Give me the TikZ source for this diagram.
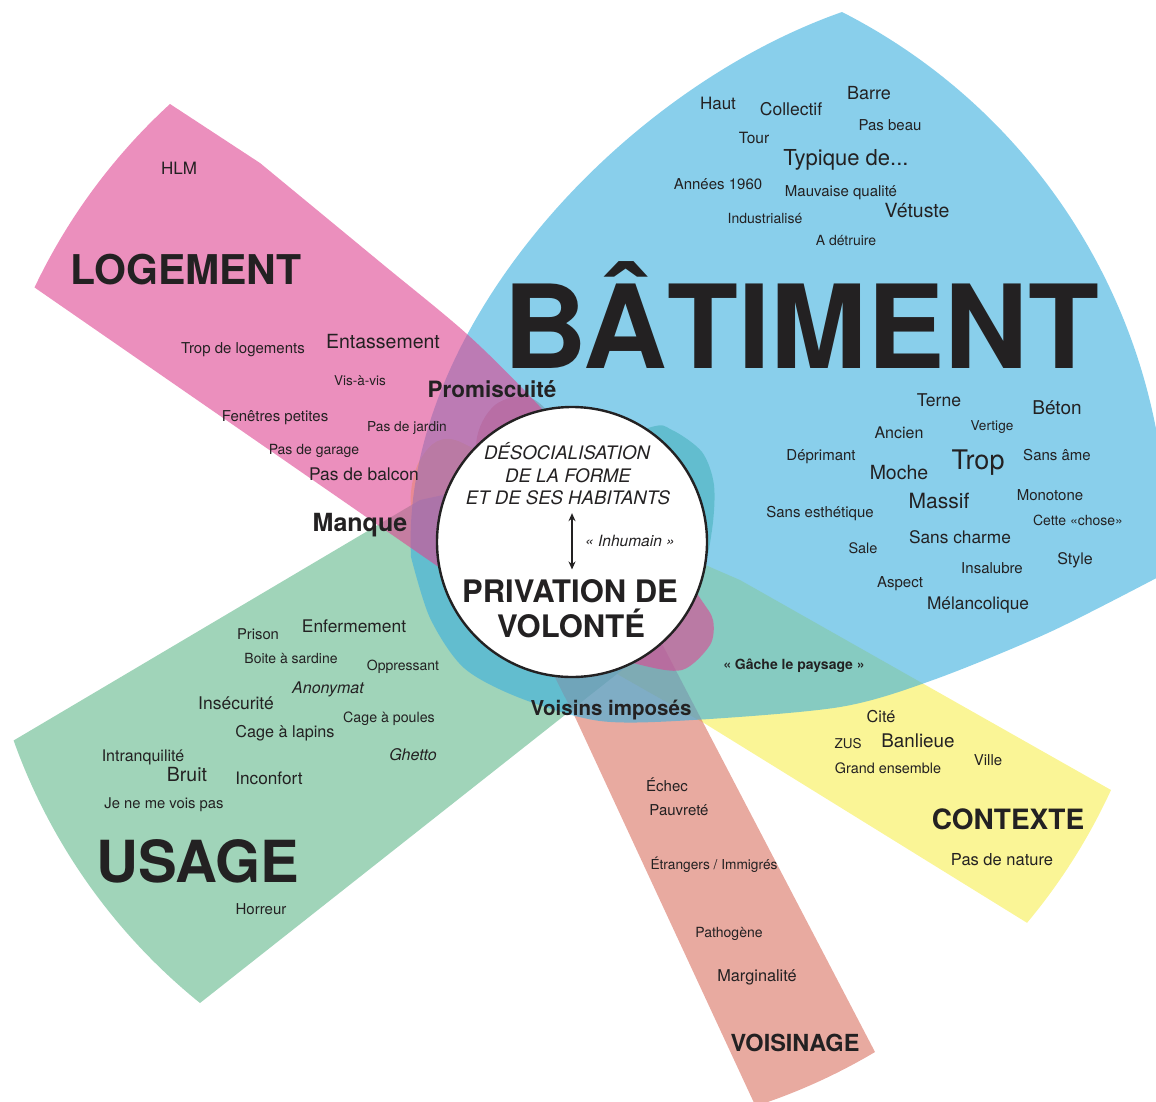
\documentclass[tikz,border=0pt]{standalone}
\usepackage{fontspec}
\setmainfont{TeX Gyre Heros}
\usepackage{tikz}
\usetikzlibrary{arrows.meta}
\definecolor{ink}{RGB}{35,33,34}
\definecolor{batfill}{RGB}{58,175,222}
\definecolor{logfill}{RGB}{222,68,145}
\definecolor{usafill}{RGB}{160,212,185}
\definecolor{confill}{RGB}{250,245,150}
\definecolor{voifill}{RGB}{217,113,97}

\begin{document}
\begin{tikzpicture}[x=1pt, y=-1pt,
        veil/.style={fill opacity=0.6},
        word/.style={anchor=mid, inner sep=0pt, text=ink, font=\fontsize{#1}{#1}\selectfont},
        bword/.style={anchor=mid, inner sep=0pt, text=ink, font=\fontsize{#1}{#1}\selectfont\bfseries},
        iword/.style={anchor=mid, inner sep=0pt, text=ink, font=\fontsize{#1}{#1}\selectfont\itshape},
        title/.style={anchor=base, inner sep=0pt, text=ink, font=\fontsize{#1}{#1}\selectfont\bfseries}]
        \useasboundingbox (0,0) rectangle (1156,1101);

        % Petals
        \fill[confill] (1111,790) arc[start angle=24.7, end angle=39.9, radius=594] -- (704,723)
            -- plot[smooth] coordinates {(704,723) (560,640) (450,560) (412,510) (420,460) (455,440) (560,500) (740,580)} -- cycle;
        \fill[usafill] (200,1003) arc[start angle=128.9, end angle=160.35, radius=594] -- (420,500)
            -- plot[smooth] coordinates {(420,500) (545,470) (648,428) (672,430) (702,452) (714,485) (712,530) (700,580) (660,640)} -- cycle;
        \fill[voifill, veil] (875,1052) arc[start angle=59.3, end angle=72, radius=593] -- (575,717)
            -- plot[smooth] coordinates {(575,717) (500,560) (476,450) (495,405) (535,400) (580,460) (660,640)} -- cycle;
        \fill[batfill, veil] (842,12) arc[start angle=-63, end angle=3, radius=595]
            -- plot[smooth] coordinates {(1166,573) (1050,632) (933,680) (840,707) (693,720) (600,721) (520,698) (464,668) (430,618) (411,557)}
            .. controls (400,330) and (620,90) .. (842,12) -- cycle;
        \fill[logfill, veil] (170,104) arc[start angle=-132.5, end angle=-154.6, radius=595] -- (440,568)
            -- plot[smooth] coordinates {(440,568) (560,640) (637,664) (682,670) (710,645) (713,620) (700,598) (660,540) (543,410) (468,335) (380,262) (260,163)} -- cycle;

        % Centre
        \node (hub) [circle, draw=ink, line width=2.4pt, fill=white, minimum size=270pt, inner sep=0pt] at (572,542) {};
        \node (deso1) [iword=18.6] at (567,457) {DÉSOCIALISATION};
        \node (deso2) [iword=18.6] at (568,480) {DE LA FORME};
        \node (deso3) [iword=18.6] at (568,502) {ET DE SES HABITANTS};
        \node (inhum) [iword=15.5] at (630,544) {« Inhumain »};
        \node (priv1) [bword=31] at (570,600) {PRIVATION DE};
        \node (priv2) [bword=31] at (571,635) {VOLONTÉ};

        % Titles
        \node (bat) [title=116] at (801,368) {BÂTIMENT};
        \node (log) [title=41] at (186,284) {LOGEMENT};
        \node (usa) [title=58] at (198,882) {USAGE};
        \node (con) [title=28] at (1008,829) {CONTEXTE};
        \node (voi) [title=23.5] at (795,1051) {VOISINAGE};

        % Links
        \node (promis) [bword=22.5] at (492,395) {Promiscuité};
        \node (manque) [bword=25] at (360,529) {Manque};
        \node (imposes) [bword=20.5] at (611,713) {Voisins imposés};
        \node (gache) [bword=14] at (794,667) {« Gâche le paysage »};

        % Logement
        \node (hlm) [word=17] at (179,172) {HLM};
        \node (troplog) [word=15] at (243,351) {Trop de logements};
        \node (entass) [word=19.5] at (383,346) {Entassement};
        \node (visavis) [word=13.5] at (360,383) {Vis-à-vis};
        \node (fenetres) [word=15] at (275,419) {Fenêtres petites};
        \node (jardin) [word=13.7] at (407,429) {Pas de jardin};
        \node (garage) [word=14] at (314,452) {Pas de garage};
        \node (balcon) [word=17.4] at (364,478) {Pas de balcon};

        % Batiment
        \node (haut) [word=17] at (718,107) {Haut};
        \node (collectif) [word=17.5] at (791,113) {Collectif};
        \node (barre) [word=18] at (869,97) {Barre};
        \node (pasbeau) [word=15] at (890,128) {Pas beau};
        \node (tour) [word=15.5] at (754,141) {Tour};
        \node (typique) [word=22] at (846,163) {Typique de...};
        \node (annees) [word=15] at (718,187) {Années 1960};
        \node (mauvaise) [word=15] at (841,194) {Mauvaise qualité};
        \node (indus) [word=14] at (765,221) {Industrialisé};
        \node (vetuste) [word=19.5] at (917,215) {Vétuste};
        \node (adetruire) [word=14] at (846,243) {A détruire};
        \node (terne) [word=17.6] at (939,404) {Terne};
        \node (beton) [word=19] at (1057,412) {Béton};
        \node (ancien) [word=16] at (899,436) {Ancien};
        \node (vertige) [word=13.6] at (992,428) {Vertige};
        \node (deprimant) [word=15] at (821,458) {Déprimant};
        \node (trop) [word=27] at (978,467) {Trop};
        \node (sansame) [word=15] at (1057,458) {Sans âme};
        \node (moche) [word=19.5] at (899,477) {Moche};
        \node (massif) [word=21] at (939,506) {Massif};
        \node (monotone) [word=15] at (1050,498) {Monotone};
        \node (esthetique) [word=15] at (820,515) {Sans esthétique};
        \node (chose) [word=14] at (1078,523) {Cette «chose»};
        \node (charme) [word=17.3] at (960,541) {Sans charme};
        \node (sale) [word=14.5] at (863,551) {Sale};
        \node (style) [word=16] at (1075,562) {Style};
        \node (insalubre) [word=15] at (992,571) {Insalubre};
        \node (aspect) [word=15] at (900,585) {Aspect};
        \node (melanco) [word=17.3] at (978,607) {Mélancolique};

        % Usage
        \node (prison) [word=14.8] at (258,637) {Prison};
        \node (enferm) [word=17.4] at (354,630) {Enfermement};
        \node (sardine) [word=14] at (291,661) {Boite à sardine};
        \node (oppress) [word=14] at (403,668) {Oppressant};
        \node (anonymat) [iword=16] at (328,691) {Anonymat};
        \node (insecur) [word=17.5] at (236,707) {Insécurité};
        \node (poules) [word=14.2] at (389,720) {Cage à poules};
        \node (lapins) [word=16.2] at (285,735) {Cage à lapins};
        \node (intranq) [word=16] at (143,759) {Intranquilité};
        \node (ghetto) [iword=16] at (413,758) {Ghetto};
        \node (bruit) [word=19.5] at (187,779) {Bruit};
        \node (inconfort) [word=17.2] at (269,782) {Inconfort};
        \node (jenemevois) [word=14.8] at (164,806) {Je ne me vois pas};
        \node (horreur) [word=15] at (261,912) {Horreur};

        % Contexte
        \node (cite) [word=16.3] at (881,720) {Cité};
        \node (zus) [word=13.5] at (848,746) {ZUS};
        \node (banlieue) [word=18.8] at (918,745) {Banlieue};
        \node (grandens) [word=14.4] at (888,771) {Grand ensemble};
        \node (ville) [word=15] at (988,763) {Ville};
        \node (nature) [word=16.5] at (1002,863) {Pas de nature};

        % Voisinage
        \node (echec) [word=15] at (667,789) {Échec};
        \node (pauvrete) [word=15] at (679,813) {Pauvreté};
        \node (etrangers) [word=13.7] at (714,867) {Étrangers / Immigrés};
        \node (pathogene) [word=14] at (729,935) {Pathogène};
        \node (marginal) [word=16.3] at (757,979) {Marginalité};

        % Arrows
        \draw[{Stealth[length=8pt,width=7pt]}-{Stealth[length=8pt,width=7pt]}, line width=1.6pt, ink, shorten <=8pt, shorten >=10pt]
            ([xshift=4pt]deso3.south) -- ([xshift=2pt]priv1.north);
\end{tikzpicture}
\end{document}
